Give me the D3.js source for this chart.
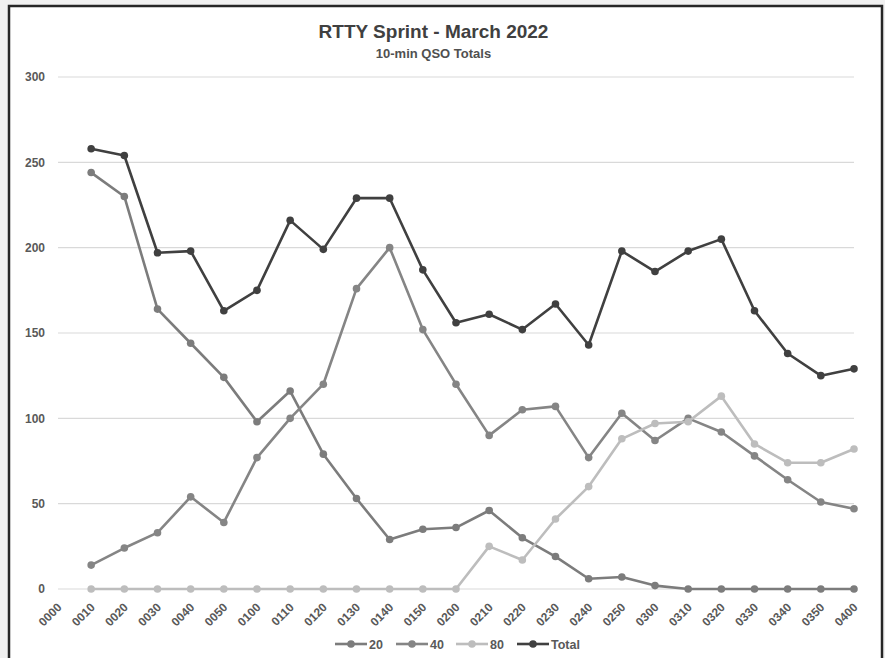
<!DOCTYPE html>
<html>
<head>
<meta charset="utf-8">
<script src="https://cdn.jsdelivr.net/npm/d3@7/dist/d3.min.js"></script>
<style>
  html, body { margin: 0; padding: 0; background: #f0f0f0; }
  svg { display: block; }
  text { font-family: "Liberation Sans", Arial, sans-serif; }
</style>
</head>
<body>
<svg id="chart" width="885" height="658"></svg>
<script>
// ---- data ----
const categories = ["0000","0010","0020","0030","0040","0050","0100","0110","0120","0130","0140","0150",
  "0200","0210","0220","0230","0240","0250","0300","0310","0320","0330","0340","0350","0400"];
const dataCategories = categories.slice(1);
const band20 = [244,230,164,144,124,98,116,79,53,29,35,36,46,30,19,6,7,2,0,0,0,0,0,0];
const band40 = [14,24,33,54,39,77,100,120,176,200,152,120,90,105,107,77,103,87,100,92,78,64,51,47];
const band80 = [0,0,0,0,0,0,0,0,0,0,0,0,25,17,41,60,88,97,98,113,85,74,74,82];
const totals = [258,254,197,198,163,175,216,199,229,229,187,156,161,152,167,143,198,186,198,205,163,138,125,129];
const yTicks = [0,50,100,150,200,250,300];
const seriesNames = ["20","40","80","Total"];
const titleText = "RTTY Sprint - March 2022";
const subtitleText = "10-min QSO Totals";

// ---- styles ----
const colors = {"20":"#7c7c7c","40":"#858585","80":"#bdbdbd","Total":"#404040"};
const seriesValues = {"20":band20,"40":band40,"80":band80,"Total":totals};

const svg = d3.select("#chart");

// chart frame
svg.append("rect").attr("x",9).attr("y",6).attr("width",873).attr("height",700)
  .attr("fill","#ffffff").attr("stroke","#262626").attr("stroke-width",2.5);

const x = d3.scalePoint().domain(categories).range([58,854]);
const y = d3.scaleLinear().domain([0,300]).range([589,77]);

// gridlines
svg.append("g").selectAll("line").data(yTicks).join("line")
  .attr("x1",58).attr("x2",854)
  .attr("y1",d=>y(d)).attr("y2",d=>y(d))
  .attr("stroke","#d9d9d9").attr("stroke-width",1.2);

// y axis labels
const yAxis = d3.axisLeft(y).tickValues(yTicks).tickSize(0).tickPadding(0);
const gy = svg.append("g").attr("transform","translate(45,0)").call(yAxis);
gy.select(".domain").remove();
gy.selectAll("text").attr("font-size",12).attr("font-weight","bold")
  .attr("fill","#595959").attr("font-family","'Liberation Sans', Arial, sans-serif");

// x axis labels
const xAxis = d3.axisBottom(x).tickSize(0).tickPadding(0);
const gx = svg.append("g").attr("transform","translate(0,589)").call(xAxis);
gx.select(".domain").remove();
gx.selectAll("text")
  .attr("font-size",12).attr("font-weight","bold").attr("fill","#595959")
  .attr("font-family","'Liberation Sans', Arial, sans-serif")
  .attr("text-anchor","end").attr("dy",0).attr("y",0)
  .attr("transform","translate(4,19) rotate(-45)");

// lines
const line = d3.line().x(d=>x(d.c)).y(d=>y(d.v));
seriesNames.forEach(name=>{
  const pts = dataCategories.map((c,i)=>({c, v: seriesValues[name][i]}));
  const g = svg.append("g");
  g.append("path").datum(pts).attr("d",line)
    .attr("fill","none").attr("stroke",colors[name]).attr("stroke-width",2.6)
    .attr("stroke-linejoin","round");
  g.selectAll("circle").data(pts).join("circle")
    .attr("cx",d=>x(d.c)).attr("cy",d=>y(d.v)).attr("r",3.8)
    .attr("fill",colors[name]);
});

// title
svg.append("text").attr("x",433.5).attr("y",38).attr("text-anchor","middle")
  .attr("font-size",19).attr("font-weight","bold").attr("fill","#404040").text(titleText);
svg.append("text").attr("x",433.5).attr("y",58).attr("text-anchor","middle")
  .attr("font-size",13).attr("font-weight","bold").attr("fill","#505050").text(subtitleText);

// legend
const legendX = {"20":335,"40":396,"80":456,"Total":517};
const lg = svg.append("g");
seriesNames.forEach(name=>{
  const gx0 = legendX[name];
  const item = lg.append("g").attr("transform",`translate(${gx0},644)`);
  item.append("line").attr("x1",0).attr("x2",32).attr("y1",0).attr("y2",0)
    .attr("stroke",colors[name]).attr("stroke-width",2.6);
  item.append("circle").attr("cx",16).attr("cy",0).attr("r",3.8).attr("fill",colors[name]);
  item.append("text").attr("x",34).attr("y",4.5).attr("font-size",12.5)
    .attr("font-weight","bold").attr("fill","#595959").text(name);
});
</script>
</body>
</html>
